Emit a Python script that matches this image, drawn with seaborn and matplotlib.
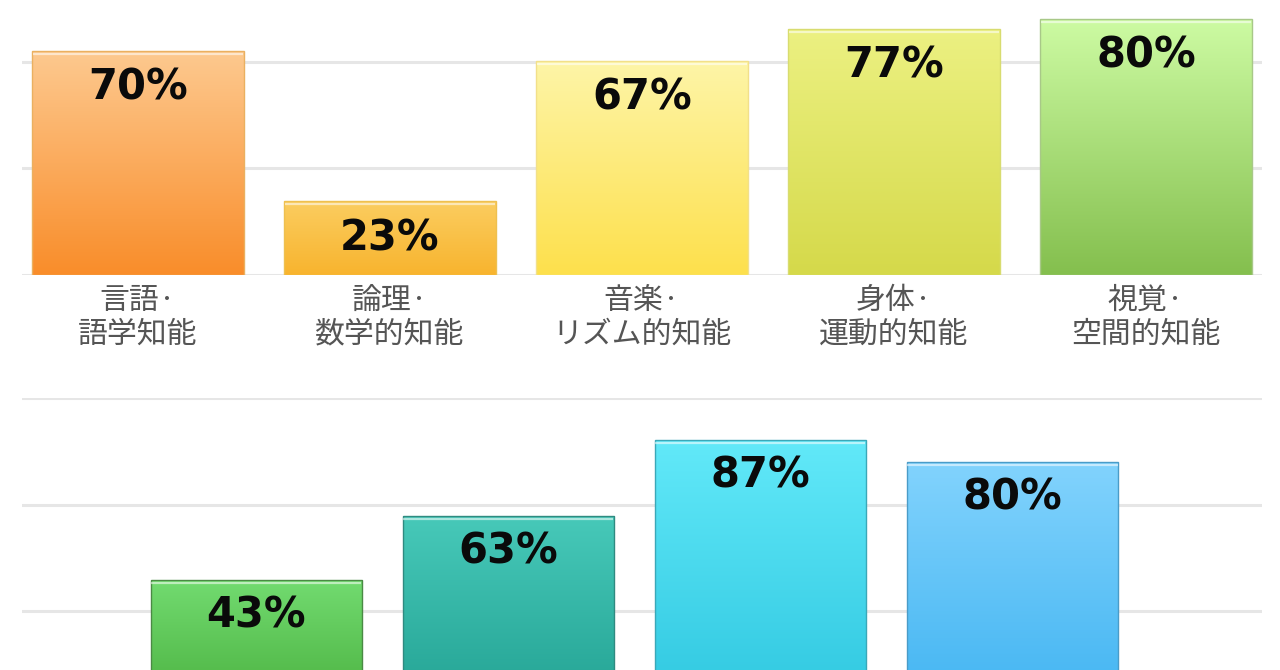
import numpy as np
import pandas as pd
import matplotlib
matplotlib.use("Agg")
import matplotlib.pyplot as plt
import matplotlib.transforms as mtransforms
from matplotlib.colors import to_rgb
import seaborn as sns

# top row (visible labels)
top_labels = ["言語·\n語学知能", "論理·\n数学的知能", "音楽·\nリズム的知能",
              "身体·\n運動的知能", "視覚·\n空間的知能"]
top_values = [70, 23, 67, 77, 80]
top_colors_hi = ["#fdc98f", "#fbcd60", "#fef5a8", "#ecf182", "#cdfba3"]
top_colors_lo = ["#f98d2a", "#f8b42e", "#fde04c", "#d5d94a", "#84bf4e"]
top_edges = ["#eab060", "#eec050", "#f2e08a", "#d8dc70", "#a8c888"]

# bottom row (labels cut off in the picture)
bottom_keys = ["6", "7", "8", "9"]
bottom_values = [43, 63, 87, 80]
bottom_colors_hi = ["#72db70", "#47c9b9", "#62e9f9", "#82d3fd"]
bottom_colors_lo = ["#47ad3b", "#21a091", "#2dc6df", "#3fb3f1"]
bottom_edges = ["#4a8a44", "#2f8a80", "#3aa8b8", "#4a9cc8"]

sns.set_style("white")
plt.rcParams["font.family"] = ["Noto Sans CJK JP", "DejaVu Sans"]

fig = plt.figure(figsize=(12.8, 6.7), dpi=100)
ax_top = fig.add_axes([0.0172, 0.5896, 0.96875, 0.4776])
ax_bot = fig.add_axes([0.0172, -0.0716, 0.96875, 0.4776])


def gradient_bars(ax, hi, lo, edges):
    for i, p in enumerate(ax.patches):
        x0, w, h = p.get_x(), p.get_width(), p.get_height()
        c1, c2 = np.array(to_rgb(hi[i])), np.array(to_rgb(lo[i]))
        t = np.linspace(0, 1, 256)[:, None, None]
        grad = c1 * (1 - t) + c2 * t
        im = ax.imshow(grad, extent=[x0, x0 + w, 0, h], origin="upper",
                       aspect="auto", zorder=p.get_zorder() + 0.1,
                       interpolation="bicubic")
        im.set_clip_path(p)
        p.set_edgecolor(edges[i])
        p.set_linewidth(1.0)
        p.set_zorder(p.get_zorder() + 0.2)
        p.set_facecolor("none")
        # light highlight line under the top edge
        off = mtransforms.ScaledTranslation(0, -2.2 / 72, fig.dpi_scale_trans)
        ax.plot([x0 + w * 0.004, x0 + w * 0.996], [h, h], color="white",
                alpha=0.55, lw=1.6, transform=ax.transData + off,
                zorder=p.get_zorder() + 0.1, solid_capstyle="butt")


def style_axis(ax, values, drop):
    ax.set_ylim(0, 100)
    ax.set_yticks([0, 100 / 3, 200 / 3, 100])
    ax.set_yticklabels([])
    ax.set_ylabel("")
    ax.set_xlabel("")
    ax.yaxis.grid(True, color="#e6e6e6", lw=2.2)
    ax.set_axisbelow(True)
    for s in ax.spines.values():
        s.set_visible(False)
    ax.tick_params(axis="both", length=0)
    for i, v in enumerate(values):
        ax.annotate(f"{v}%", xy=(i, v), xytext=(0, -drop),
                    textcoords="offset points", ha="center", va="top",
                    fontsize=30, fontweight="bold", family="DejaVu Sans",
                    color="#0a0a0a", zorder=10)


df_top = pd.DataFrame({"cat": top_labels, "val": top_values})
sns.barplot(data=df_top, x="cat", y="val", hue="cat", palette=top_colors_lo,
            legend=False, width=0.84, ax=ax_top)
gradient_bars(ax_top, top_colors_hi, top_colors_lo, top_edges)
style_axis(ax_top, top_values, 11.5)
ax_top.set_xlim(-0.46, 4.46)
ax_top.set_xticks(range(len(top_labels)))
ax_top.set_xticklabels(top_labels, fontsize=21.5, color="#555555", linespacing=1.13)
ax_top.tick_params(axis="x", pad=7)

df_bot = pd.DataFrame({"cat": bottom_keys, "val": bottom_values})
sns.barplot(data=df_bot, x="cat", y="val", hue="cat", palette=bottom_colors_lo,
            legend=False, width=0.84, ax=ax_bot)
gradient_bars(ax_bot, bottom_colors_hi, bottom_colors_lo, bottom_edges)
style_axis(ax_bot, bottom_values, 10.5)
ax_bot.set_xlim(-0.93, 3.99)
ax_bot.set_xticklabels([])

fig.savefig("out.png", dpi=100, facecolor="white")
